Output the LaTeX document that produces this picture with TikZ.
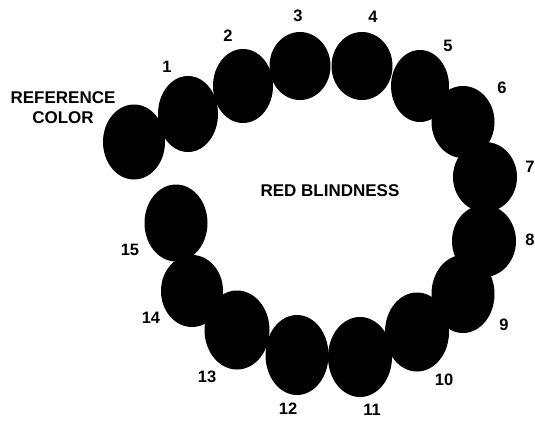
\documentclass[tikz,border=0pt]{standalone}
\usepackage{fontspec}
\setmainfont{Liberation Sans}
\newcommand\mybead[5]{%
  \fill[black] (#2,#3) ellipse[x radius=#4/2, y radius=#5/2];
  \coordinate (#1) at (#2,#3);}
\begin{document}
\begin{tikzpicture}[x=1pt,y=-1pt,
  num/.style={font=\fontsize{16.5}{16}\selectfont\bfseries, inner sep=0pt},
  lab/.style={font=\fontsize{17}{20}\selectfont\bfseries, inner sep=0pt, align=center}]
\useasboundingbox (0,0) rectangle (535,423);
\mybead{b0}{134}{142}{62}{75}
\mybead{b1}{188}{114}{60}{76}
\mybead{b2}{243}{86}{60}{74}
\mybead{b3}{300}{66}{61}{68}
\mybead{b4}{362}{66}{61}{68}
\mybead{b5}{420}{86}{58}{72}
\mybead{b6}{463}{122}{63}{72}
\mybead{b7}{485}{177}{64}{70}
\mybead{b8}{484}{241}{64}{72}
\mybead{b9}{463}{294}{63}{78}
\mybead{b10}{417}{332}{64}{79}
\mybead{b11}{360}{357}{64}{80}
\mybead{b12}{297}{355}{63}{80}
\mybead{b13}{237}{330}{65}{79}
\mybead{b14}{192}{291}{62}{72}
\mybead{b15}{176}{223}{63}{77}
\node[lab] (ref) at (63,108) {REFERENCE\\COLOR};
\node[lab] (red) at (330,191) {RED BLINDNESS};
\node[num] (n1) at (167,67) {1};
\node[num] (n2) at (228,36) {2};
\node[num] (n3) at (298,16) {3};
\node[num] (n4) at (373,17) {4};
\node[num] (n5) at (448,46) {5};
\node[num] (n6) at (502,88) {6};
\node[num] (n7) at (530,167) {7};
\node[num] (n8) at (530,240) {8};
\node[num] (n9) at (504,325) {9};
\node[num] (n10) at (444,380) {10};
\node[num] (n11) at (372,410) {11};
\node[num] (n12) at (288,409) {12};
\node[num] (n13) at (207,377) {13};
\node[num] (n14) at (151,318) {14};
\node[num] (n15) at (130,250) {15};
\end{tikzpicture}
\end{document}
